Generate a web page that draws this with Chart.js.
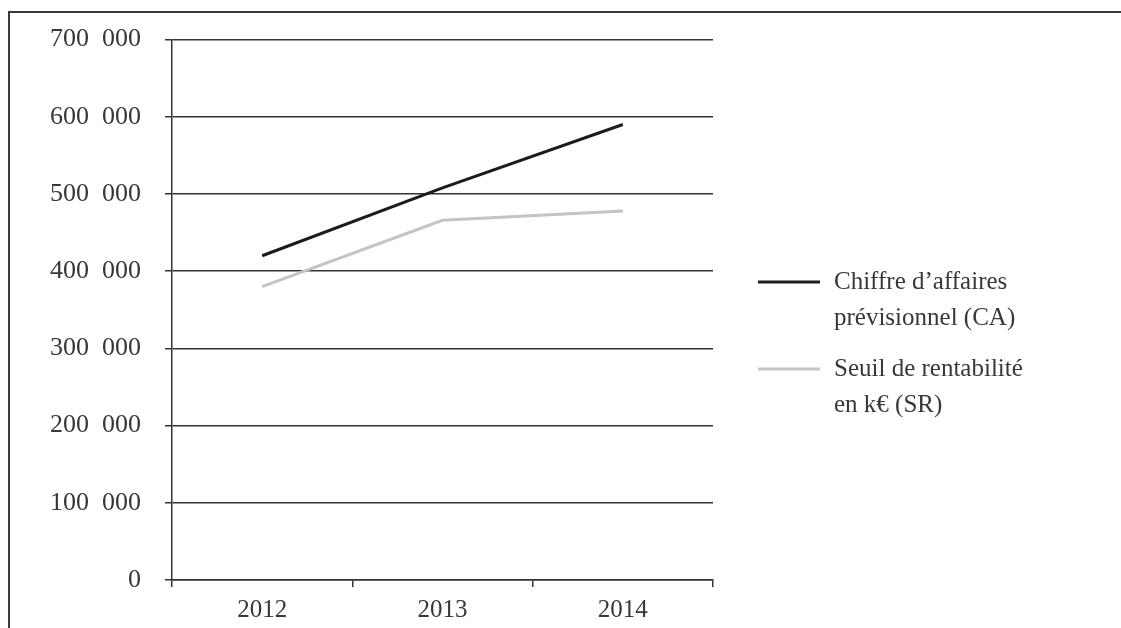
<!DOCTYPE html>
<html>
<head>
<meta charset="utf-8">
<script src="https://cdn.jsdelivr.net/npm/chart.js@4/dist/chart.umd.min.js"></script>
<style>
html,body{margin:0;padding:0;background:#fff;overflow:hidden;}
#wrap{position:relative;width:1121px;height:628px;}
#frame{position:absolute;left:8px;top:11px;width:1200px;height:700px;border-left:2px solid #3a3a3a;border-top:2px solid #3a3a3a;}
canvas{position:absolute;left:0;top:0;}
</style>
</head>
<body>
<div id="wrap">
<div id="frame"></div>
<canvas id="chart" width="1121" height="628"></canvas>
</div>
<script>
// ---- data ----
const years=["2012","2013","2014"];
const caValues=[420000,508000,590000];
const srValues=[380000,466000,478000];
const caLabel=["Chiffre d\u2019affaires","prévisionnel (CA)"];
const srLabel=["Seuil de rentabilité","en k€ (SR)"];

const FONT="'Liberation Serif', serif";
const TXT="#383838";

// legend drawn by hand (two-line labels)
const sideLegend={
    id:"sideLegend",
    afterDraw(chart){
        const ctx=chart.ctx;
        const x0=chart.chartArea.right+45;
        let y=282;
        ctx.save();
        ctx.font="25px "+FONT;
        ctx.fillStyle=TXT;
        ctx.textBaseline="middle";
        chart.data.datasets.forEach(ds=>{
            ctx.strokeStyle=ds.borderColor;
            ctx.lineWidth=3;
            ctx.beginPath();
            ctx.moveTo(x0,y);
            ctx.lineTo(x0+62,y);
            ctx.stroke();
            ds.label.forEach((line,i)=>{
                ctx.fillText(line,x0+76,y+i*36);
            });
            y+=87;
        });
        ctx.restore();
    }
};

new Chart(document.getElementById("chart"),{
    type:"line",
    data:{
        labels:years,
        datasets:[
            {label:caLabel,data:caValues,borderColor:"#1c1c1c",borderWidth:3,pointRadius:0,tension:0},
            {label:srLabel,data:srValues,borderColor:"#c4c4c4",borderWidth:3,pointRadius:0,tension:0}
        ]
    },
    options:{
        responsive:false,
        animation:false,
        layout:{padding:{left:20,right:408,top:39,bottom:0}},
        plugins:{legend:{display:false},tooltip:{enabled:false}},
        scales:{
            x:{
                offset:true,
                grid:{offset:true,drawOnChartArea:false,color:"#333",lineWidth:1.5,tickLength:7},
                border:{color:"#333",width:1.5},
                ticks:{font:{family:FONT,size:25},color:TXT,padding:8},
                afterFit(s){s.height=48;}
            },
            y:{
                min:0,max:700000,
                grid:{color:"#333",lineWidth:1.5,tickLength:7},
                border:{color:"#333",width:1.5},
                ticks:{stepSize:100000,font:{family:FONT,size:26},color:TXT,padding:24,
                    callback:v=>String(v).replace(/\B(?=(\d{3})+(?!\d))/g,"\u2002")},
                afterFit(s){s.width=152;}
            }
        }
    },
    plugins:[sideLegend]
});
</script>
</body>
</html>
